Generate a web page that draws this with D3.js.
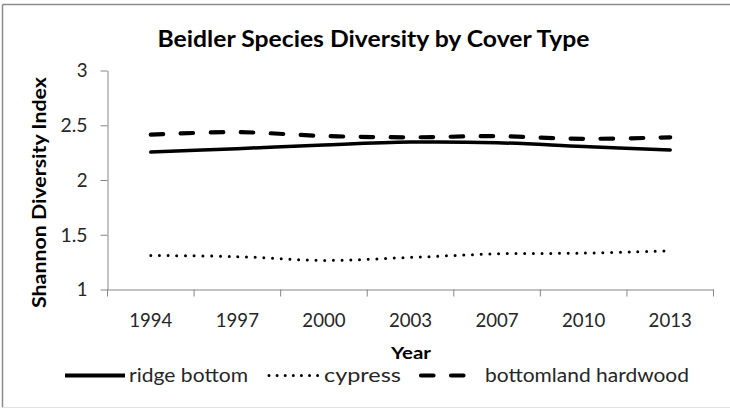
<!DOCTYPE html>
<html>
<head>
<meta charset="utf-8">
<script src="https://cdn.jsdelivr.net/npm/d3@7"></script>
<style>
  html, body { margin: 0; padding: 0; background: #fff; }
  svg { display: block; font-family: Lato, "Liberation Sans", sans-serif; }
</style>
</head>
<body>
<svg id="chart" width="730" height="409"></svg>
<script>
// Survey years and Shannon diversity index per cover type
const years = ["1994", "1997", "2000", "2003", "2007", "2010", "2013"];
const ridgeBottom = [2.255, 2.286, 2.32, 2.346, 2.34, 2.305, 2.274];
const cypress = [1.311, 1.30, 1.266, 1.293, 1.326, 1.332, 1.353];
const bottomlandHardwood = [2.414, 2.437, 2.402, 2.39, 2.40, 2.376, 2.39];
const yTicks = [1, 1.5, 2, 2.5, 3];
const seriesNames = ["ridge bottom", "cypress", "bottomland hardwood"];

const svg = d3.select("#chart");
const axisColor = "#868686";
const textColor = "#262626";
const fontStack = "Lato, 'Liberation Sans', sans-serif";
// narrow digit widths for tick labels
const labelWidth = s => s.replace(/\./g, "").length * 10.8 + (s.includes(".") ? 5.4 : 0);

// chart frame
svg.append("line").attr("x1", 2.5).attr("x2", 730).attr("y1", 4.5).attr("y2", 4.5)
  .attr("stroke", "#8a8a8a").attr("stroke-width", 1.5);
svg.append("line").attr("x1", 2.5).attr("x2", 2.5).attr("y1", 4.5).attr("y2", 407.5)
  .attr("stroke", "#8a8a8a").attr("stroke-width", 1.5);
svg.append("line").attr("x1", 2.5).attr("x2", 730).attr("y1", 407.5).attr("y2", 407.5)
  .attr("stroke", "#e2e2e2").attr("stroke-width", 1);

const x = d3.scaleBand().domain(years).range([107.5, 713.5]);
const y = d3.scaleLinear().domain([1, 3]).range([289.5, 70.5]);

// title
svg.append("text")
  .attr("x", 373.5).attr("y", 46.5)
  .attr("text-anchor", "middle")
  .attr("font-size", 22.5).attr("font-weight", "bold").attr("fill", "#000")
  .attr("textLength", 432).attr("lengthAdjust", "spacingAndGlyphs")
  .text("Beidler Species Diversity by Cover Type");

// y axis
const yAxis = svg.append("g").attr("transform", "translate(107.5,0)")
  .call(d3.axisLeft(y).tickValues(yTicks).tickSize(7).tickSizeOuter(0).tickPadding(13)
    .tickFormat(d3.format("")));
yAxis.select(".domain").attr("stroke", axisColor);
yAxis.selectAll(".tick line").attr("stroke", axisColor);
yAxis.selectAll(".tick text").attr("font-size", 19.5).attr("fill", textColor)
  .attr("font-family", fontStack)
  .attr("textLength", function () { return labelWidth(this.textContent); })
  .attr("lengthAdjust", "spacingAndGlyphs");

// x axis: line, boundary ticks, centered year labels
const xAxis = svg.append("g").attr("transform", "translate(0,289.5)")
  .call(d3.axisBottom(x).tickSize(0).tickSizeOuter(0).tickPadding(23.5));
xAxis.select(".domain").attr("stroke", axisColor);
xAxis.selectAll(".tick text").attr("font-size", 19.5).attr("fill", textColor)
  .attr("font-family", fontStack)
  .attr("textLength", function () { return labelWidth(this.textContent); })
  .attr("lengthAdjust", "spacingAndGlyphs");
const bounds = years.map(d => x(d)).concat([x.range()[1]]);
xAxis.selectAll(".bound").data(bounds).enter().append("line")
  .attr("x1", d => d).attr("x2", d => d).attr("y1", 0).attr("y2", 7)
  .attr("stroke", axisColor);

// axis titles
svg.append("text")
  .attr("transform", "translate(46,192.5) rotate(-90)")
  .attr("text-anchor", "middle").attr("font-size", 18).attr("font-weight", "bold")
  .attr("textLength", 231).attr("lengthAdjust", "spacingAndGlyphs")
  .text("Shannon Diversity Index");
svg.append("text")
  .attr("x", 411).attr("y", 359).attr("text-anchor", "middle")
  .attr("font-size", 17).attr("font-weight", "bold")
  .attr("textLength", 40).attr("lengthAdjust", "spacingAndGlyphs")
  .text("Year");

// series
const styles = [
  { values: ridgeBottom, width: 3.5, dash: null },
  { values: cypress, width: 3, dash: "0,8.7" },
  { values: bottomlandHardwood, width: 4.2, dash: "12.5,17.5" }
];
const line = d3.line()
  .x((d, i) => x(years[i]) + x.bandwidth() / 2)
  .y(d => y(d))
  .curve(d3.curveCatmullRom.alpha(0.5));
svg.append("g").selectAll("path").data(styles).enter().append("path")
  .attr("d", s => line(s.values))
  .attr("fill", "none").attr("stroke", "#000")
  .attr("stroke-width", s => s.width)
  .attr("stroke-linecap", "round")
  .attr("stroke-dasharray", s => s.dash);

// legend
const legendItems = [
  { x1: 65, x2: 125, tx: 129, tw: 119 },
  { x1: 269, x2: 318, tx: 324, tw: 77 },
  { x1: 421, x2: 466, tx: 485, tw: 204 }
];
const lg = svg.append("g");
legendItems.forEach((it, i) => {
  lg.append("line")
    .attr("x1", it.x1).attr("x2", it.x2).attr("y1", 375.5).attr("y2", 375.5)
    .attr("stroke", "#000").attr("stroke-width", i === 1 ? 3 : (i === 2 ? 4.2 : 4))
    .attr("stroke-linecap", i === 0 ? "butt" : "round")
    .attr("stroke-dasharray", i === 1 ? "0,8.1" : (i === 2 ? "12.5,17.5" : null));
  lg.append("text")
    .attr("x", it.tx).attr("y", 382).attr("font-size", 19.5).attr("fill", textColor)
    .attr("textLength", it.tw).attr("lengthAdjust", "spacingAndGlyphs")
    .text(seriesNames[i]);
});
</script>
</body>
</html>
